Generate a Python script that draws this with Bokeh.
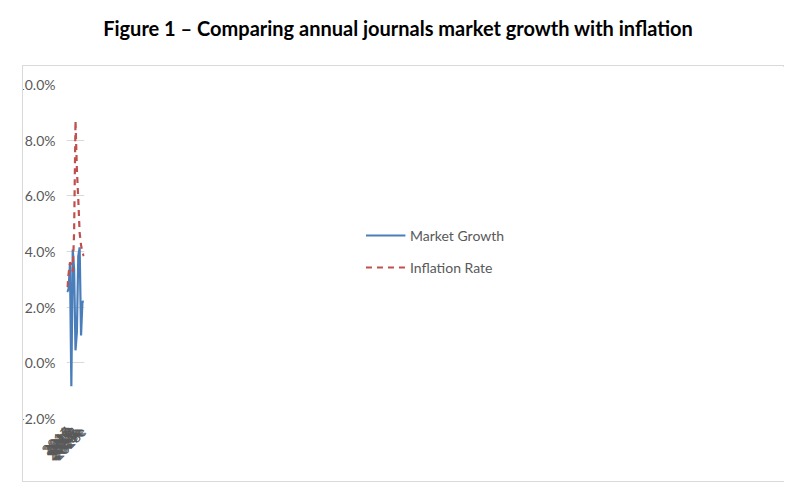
from bokeh.plotting import figure
from bokeh.models import Div, Legend, LegendItem, NumeralTickFormatter, FixedTicker
from bokeh.layouts import column
from bokeh.embed import file_html
from bokeh.resources import INLINE
import math

years = ["2016","2017","2018","2019","2020","2021","2022","2023e","2024e","2025e","2026e","2027e","2028e"]
market_growth = [2.54,2.66,3.55,-0.84,4.07,3.37,0.45,1.10,3.83,4.15,0.98,2.20,2.20]
inflation_rate = [2.72,3.19,3.61,3.55,3.28,4.69,8.70,6.95,5.88,4.67,4.23,3.97,3.83]
mg = [v/100 for v in market_growth]
ir = [v/100 for v in inflation_rate]

FONT = "Lato"
title = Div(text="<b>Figure 1 – Comparing annual journals market growth with inflation</b>",
            width=786, height=50,
            styles={"text-align":"center","font-family":FONT,"font-size":"20px","color":"#000",
                    "width":"786px","padding-top":"9px"})

p = figure(x_range=years, y_range=(-0.02, 0.10), width=762, height=417,
           output_backend="svg", toolbar_location=None,
           min_border_left=61, min_border_right=0, min_border_top=18, min_border_bottom=65,
           margin=(5,0,0,22), styles={"border":"1px solid #d9d9d9"})
p.x_range.range_padding = 0
p.outline_line_color = None
p.xgrid.grid_line_color = None
p.ygrid.grid_line_color = "#d9d9d9"
p.ygrid.grid_line_width = 1
p.yaxis.ticker = FixedTicker(ticks=[-0.02,0,0.02,0.04,0.06,0.08,0.10])
p.yaxis.formatter = NumeralTickFormatter(format="0.0%")
for ax in (p.xaxis, p.yaxis):
    ax.axis_line_color = None
    ax.major_tick_line_color = None
    ax.minor_tick_line_color = None
    ax.major_label_text_font = FONT
    ax.major_label_text_font_size = "14px"
    ax.major_label_text_color = "#595959"
p.xaxis.major_label_orientation = math.pi/4

r1 = p.line(years, mg, line_color="#4a7ebb", line_width=2.2)
r2 = p.line(years, ir, line_color="#c0504d", line_width=2.2, line_dash="6 5")

legend = Legend(items=[LegendItem(label="Market Growth", renderers=[r1]),
                       LegendItem(label="Inflation Rate", renderers=[r2])],
                location="center", spacing=12, glyph_width=40, margin=60, padding=5,
                label_text_font=FONT, label_text_font_size="14px", label_text_color="#595959",
                background_fill_alpha=0, border_line_color=None)
p.add_layout(legend, "right")

open("out.html","w").write(file_html(column(title, p), INLINE))
